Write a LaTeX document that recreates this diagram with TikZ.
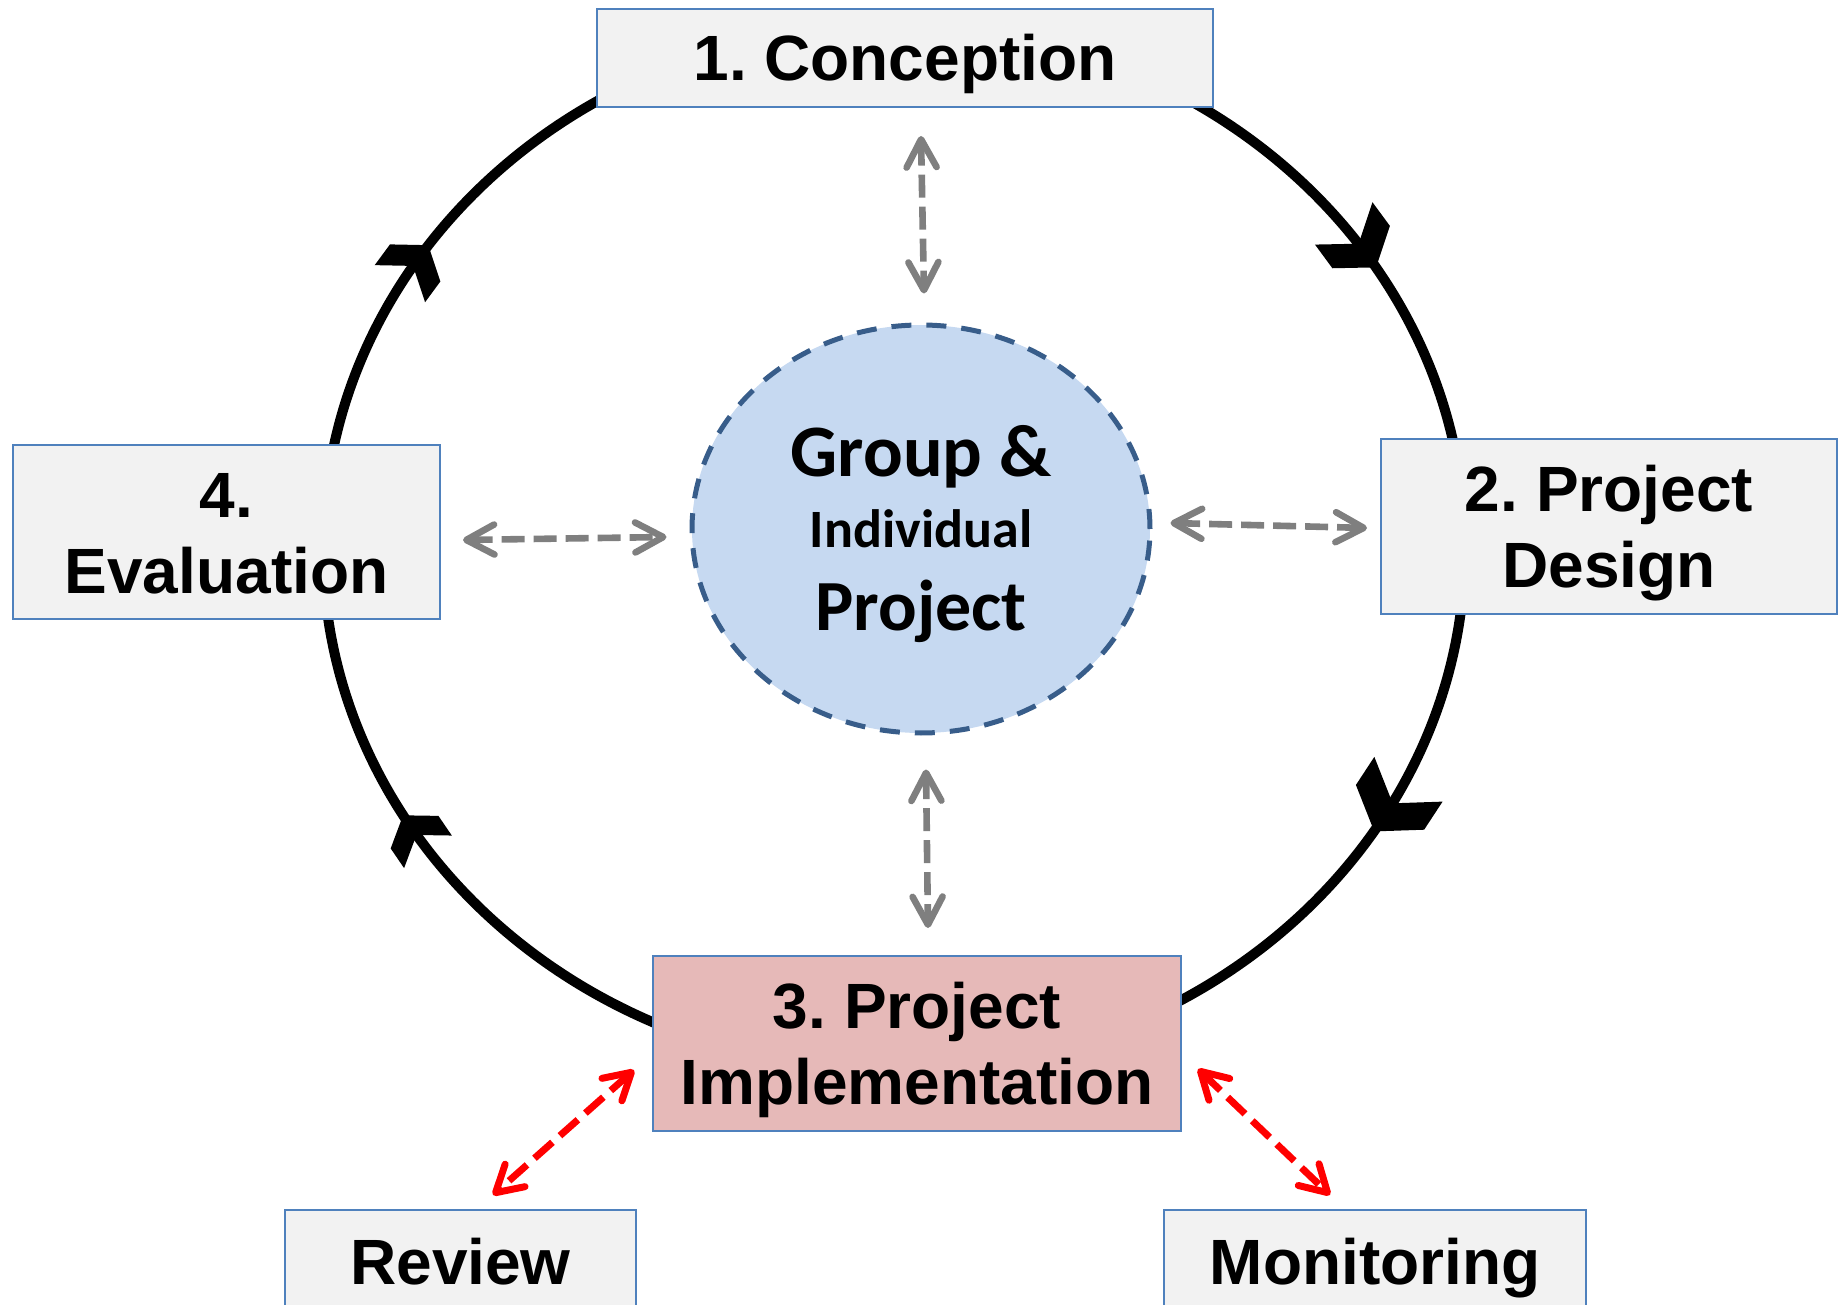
\documentclass[tikz,border=0pt]{standalone}
\usepackage{fontspec}
\usetikzlibrary{shapes.geometric,arrows.meta,calc}
\newfontfamily\stagefamily{Liberation Sans}
\newfontfamily\hubfamily{Carlito}
\definecolor{boxgray}{HTML}{F2F2F2}
\definecolor{boxblue}{HTML}{4F81BD}
\definecolor{implpink}{HTML}{E6B9B8}
\definecolor{hubfill}{HTML}{C6D9F1}
\definecolor{hubedge}{HTML}{385D8A}
\definecolor{linkgray}{HTML}{7F7F7F}
\frenchspacing
% two centred lines whose reference point is the last baseline
\newcommand\twolines[2]{\begin{tabular}[b]{@{}c@{}}#1\\#2\end{tabular}}

\begin{document}
\begin{tikzpicture}[x=0.5pt, y=-0.5pt,
  stage/.style={rectangle, draw=boxblue, line width=1pt, fill=boxgray, inner sep=0pt,
    font=\stagefamily\bfseries\fontsize{32}{38}\selectfont, text height=23pt, text depth=0pt},
  tall/.style={text height=61pt},
  hub/.style={ellipse, fill=hubfill, draw=hubedge, line width=2.5pt,
    dash pattern=on 10pt off 7.5pt, inner sep=0pt, minimum width=229pt, minimum height=204pt},
  hubtext/.style={anchor=base, inner sep=0pt, font=\hubfamily\bfseries\fontsize{#1}{#1}\selectfont},
  cycleline/.style={line width=5pt, draw=black},
  chevron/.style={fill=black},
  graylink/.style={draw=linkgray, line width=3.3pt, dash pattern=on 11.5pt off 4.5pt,
    {Straight Barb[length=14pt,width=15pt,round]}-{Straight Barb[length=14pt,width=15pt,round]}},
  redlink/.style={draw=red, line width=3.5pt, dash pattern=on 12pt off 5pt,
    {Straight Barb[length=13pt,width=15pt,round]}-{Straight Barb[length=13pt,width=15pt,round]}},
]
\useasboundingbox (0,0) rectangle (1844,1305);

% the project cycle
\coordinate (cyc) at (894,548);
\draw[cycleline] (cyc) ellipse [x radius=285.5pt, y radius=261.5pt];

% direction markers along the cycle (clockwise)
\foreach \t/\s in {34/1.05, -31/1.2, 146/0.92, 212/0.85}{
  \pgfmathsetmacro\ang{atan2(-523*cos(\t), 571*sin(\t))}
  \fill[chevron, shift={($(cyc)+({571*cos(\t)},{-523*sin(\t)})$)}, rotate=\ang, scale=\s]
    (14,0) -- (-10,34) -- (-38,34) -- (-14,0) -- (-38,-34) -- (-10,-34) -- cycle;
}

% stages
\node[stage, minimum width=308pt, minimum height=49pt] (concep) at (905,58) {1. Conception};
\node[stage, tall, minimum width=228pt, minimum height=87.5pt] (design) at (1609,526.5) {\twolines{2. Project}{Design}};
\node[stage, tall, minimum width=213.5pt, minimum height=87pt] (evalbox) at (226.5,532) {\twolines{4.}{Evaluation}};
\node[stage, tall, fill=implpink, minimum width=264pt, minimum height=87.5pt] (impl) at (917,1043.5) {\twolines{3. Project}{Implementation}};
\node[stage, minimum width=175.5pt, minimum height=51pt] (review) at (460.5,1261) {Review};
\node[stage, minimum width=211pt, minimum height=51pt] (monitor) at (1375,1261) {Monitoring};

% central project
\node[hub] (hub) at (921,529) {};
\node[hubtext=37] (hubA) at ($(hub.center)+(0,-52)$) {Group \&};
\node[hubtext=27] (hubB) at ($(hub.center)+(0,18)$) {Individual};
\node[hubtext=36] (hubC) at ($(hub.center)+(0,101)$) {Project};

% links between the project and the stages
\draw[graylink] ($(concep.south)+(16,28)$) -- ($(hub.north)+(3,-29)$);
\draw[graylink] ($(hub.south)+(5,34)$) -- ($(impl.north)+(11,-27)$);
\draw[graylink] ($(evalbox.east)+(22,8)$) -- ($(hub.west)+(-23,8)$);
\draw[graylink] ($(hub.east)+(18,-6)$) -- ($(design.west)+(-13,1.5)$);

% review and monitoring links
\draw[redlink] ($(impl.south west)+(-18,-62)$) -- ($(review.north)+(32.5,-14)$);
\draw[redlink] ($(impl.south east)+(16,-63)$) -- ($(monitor.north)+(-45,-14)$);
\end{tikzpicture}
\end{document}
